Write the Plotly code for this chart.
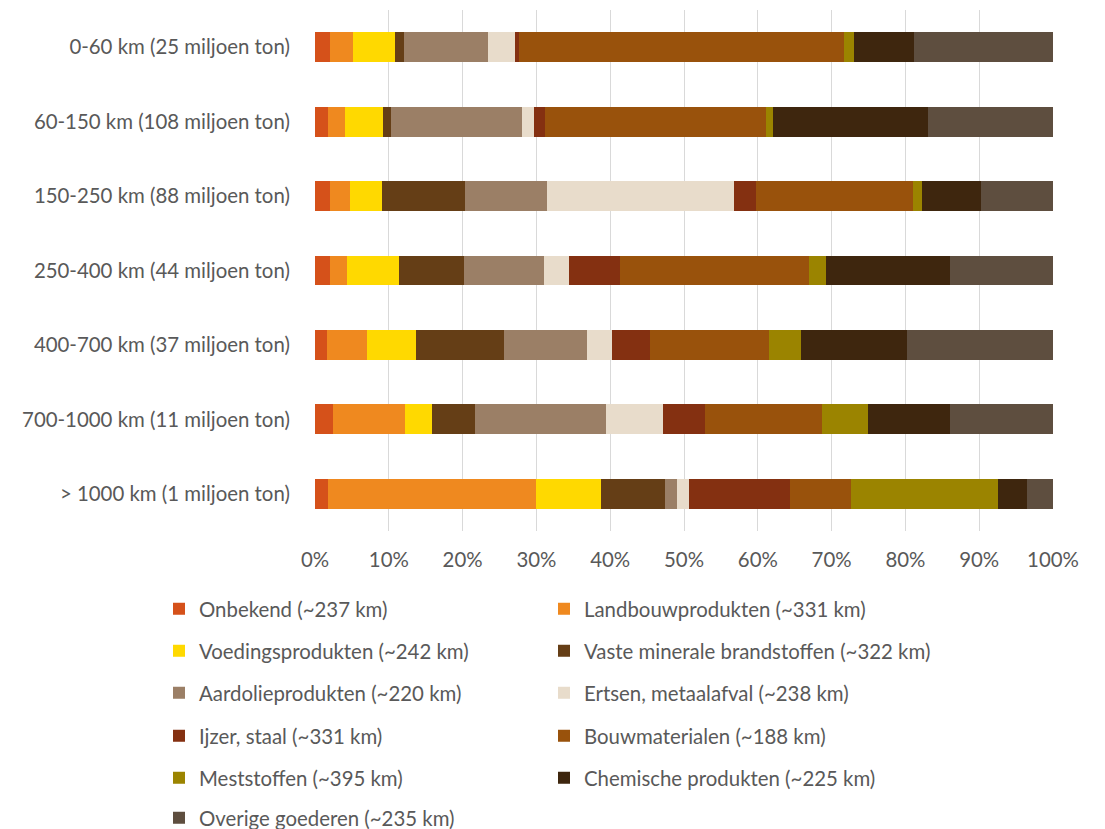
import plotly.graph_objects as go

# Distance classes (top to bottom) and goods categories
afstanden = [
    "0-60 km (25 miljoen ton)",
    "60-150 km (108 miljoen ton)",
    "150-250 km (88 miljoen ton)",
    "250-400 km (44 miljoen ton)",
    "400-700 km (37 miljoen ton)",
    "700-1000 km (11 miljoen ton)",
    "> 1000 km (1 miljoen ton)",
]

goederen = [
    "Onbekend (~237 km)",
    "Landbouwprodukten (~331 km)",
    "Voedingsprodukten (~242 km)",
    "Vaste minerale brandstoffen (~322 km)",
    "Aardolieprodukten (~220 km)",
    "Ertsen, metaalafval (~238 km)",
    "Ijzer, staal (~331 km)",
    "Bouwmaterialen (~188 km)",
    "Meststoffen (~395 km)",
    "Chemische produkten (~225 km)",
    "Overige goederen (~235 km)",
]

# Share (%) of each goods category per distance class, same order as afstanden
onbekend = [2.0, 1.7, 2.0, 2.0, 1.6, 2.4, 1.7]
landbouw = [3.1, 2.3, 2.7, 2.4, 5.4, 9.8, 28.2]
voeding = [5.8, 5.2, 4.4, 7.0, 6.7, 3.7, 8.9]
vaste_brandstoffen = [1.2, 1.1, 11.2, 8.8, 11.9, 5.8, 8.6]
aardolie = [11.3, 17.8, 11.1, 10.8, 11.3, 17.7, 1.7]
ertsen = [3.7, 1.6, 25.4, 3.4, 3.4, 7.7, 1.6]
ijzer_staal = [0.5, 1.4, 3.0, 6.9, 5.1, 5.7, 13.7]
bouwmaterialen = [44.1, 30.0, 21.2, 25.6, 16.1, 15.9, 8.2]
meststoffen = [1.3, 1.0, 1.3, 2.3, 4.3, 6.2, 20.0]
chemisch = [8.1, 20.9, 7.9, 16.8, 14.4, 11.2, 3.9]
overige = [18.9, 17.0, 9.9, 14.0, 19.8, 13.9, 3.6]

reeksen = [onbekend, landbouw, voeding, vaste_brandstoffen, aardolie, ertsen,
           ijzer_staal, bouwmaterialen, meststoffen, chemisch, overige]

kleuren = ["#D5511A", "#EF891F", "#FFD900", "#653E16", "#9B7F66", "#E8DCCB",
           "#843011", "#99520C", "#9B8400", "#3E260E", "#5E4E3F"]

FONT = "Lato"
FONT_SIZE = 20.4
GRIJS = "#595959"

# plot area geometry in pixels (used to place the legend entries)
W, H = 1105, 829
ml, mr, mt, mb = 315, 52, 10, 298
plot_w = W - ml - mr
plot_h = H - mt - mb
row_centres = [609, 651, 693, 736, 778, 818]
column_left = [159, 544]

fig = go.Figure()
legend_layouts = {}
for i, (naam, waarden, kleur) in enumerate(zip(goederen, reeksen, kleuren)):
    lid = "legend" if i == 0 else f"legend{i + 1}"
    fig.add_trace(go.Bar(
        name=naam,
        y=afstanden,
        x=waarden,
        orientation="h",
        marker=dict(color=kleur, line=dict(width=0)),
        legend=lid,
        showlegend=True,
        hovertemplate="%{y}<br>" + naam + ": %{x:.1f}%<extra></extra>",
    ))
    # two-column legend, filled row by row
    legend_layouts[lid] = dict(
        orientation="h",
        x=(column_left[i % 2] - ml) / plot_w,
        xanchor="left",
        y=(H - mb - row_centres[i // 2]) / plot_h,
        yanchor="middle",
        itemwidth=30,
        font=dict(family=FONT, size=FONT_SIZE, color=GRIJS),
        bgcolor="rgba(0,0,0,0)",
        visible=True,
    )

fig.update_layout(
    width=W,
    height=H,
    showlegend=True,
    barmode="stack",
    bargap=0.6,
    margin=dict(l=ml, r=mr, t=mt, b=mb, pad=0, autoexpand=False),
    paper_bgcolor="white",
    plot_bgcolor="white",
    font=dict(family=FONT, size=FONT_SIZE, color=GRIJS),
    xaxis=dict(
        range=[0, 100],
        tickvals=[0, 10, 20, 30, 40, 50, 60, 70, 80, 90, 100],
        ticktext=["0%", "10%", "20%", "30%", "40%", "50%", "60%", "70%", "80%", "90%", "100%"],
        showgrid=True,
        gridcolor="#D9D9D9",
        gridwidth=1,
        zeroline=False,
        showline=False,
        ticks="outside",
        ticklen=11,
        tickcolor="rgba(0,0,0,0)",
        tickfont=dict(family=FONT, size=FONT_SIZE, color=GRIJS),
        fixedrange=True,
    ),
    yaxis=dict(
        categoryorder="array",
        categoryarray=afstanden[::-1],
        showgrid=False,
        zeroline=False,
        showline=False,
        ticks="outside",
        ticklen=20,
        tickcolor="rgba(0,0,0,0)",
        tickfont=dict(family=FONT, size=FONT_SIZE, color=GRIJS),
        fixedrange=True,
    ),
    **legend_layouts,
)

fig.write_html("out.html")
